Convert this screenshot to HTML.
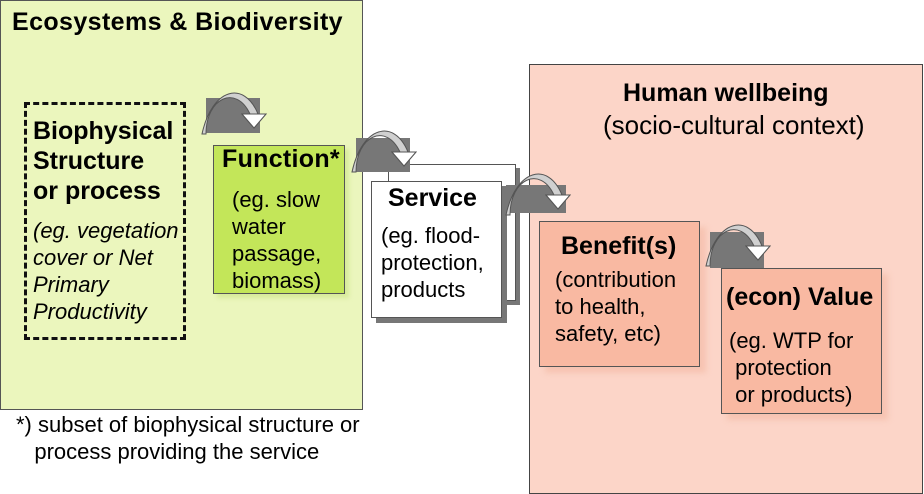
<!DOCTYPE html>
<html><head><meta charset="utf-8"><style>
body{margin:0;width:924px;height:489px;position:relative;background:#fff;font-family:"Liberation Sans",Arial,sans-serif;overflow:hidden}
.a{position:absolute;box-sizing:border-box}
.t{position:absolute;white-space:nowrap;color:#000}
.b{font-weight:bold}
</style></head><body>
<div class="a" style="left:0;top:0;width:363px;height:410px;background:#ebf6bd;border:1px solid #555"></div>
<div class="a" style="left:529px;top:64px;width:394px;height:430px;background:#fcd5c8;border:1px solid #444"></div>
<div class="t b" style="left:12px;top:8px;font-size:25px;letter-spacing:0.4px">Ecosystems &amp; Biodiversity</div>
<div class="a" style="left:24px;top:102px;width:162px;height:238px;border:3px dashed #111"></div>
<div class="t b" style="left:33px;top:116px;font-size:25px;line-height:30px">Biophysical<br>Structure<br>or process</div>
<div class="t" style="left:33px;top:217px;font-size:22px;line-height:27px;font-style:italic">(eg. vegetation<br>cover or Net<br>Primary<br>Productivity</div>
<div class="t" style="left:16px;top:411px;font-size:22px;line-height:27px">*) subset of biophysical structure or<br>&nbsp;&nbsp;&nbsp;process providing the service</div>

<!-- function -->
<div class="a" style="left:217px;top:149px;width:132px;height:149px;background:#d7eb9a;filter:blur(2px)"></div>
<div class="a" style="left:213px;top:145px;width:132px;height:149px;background:#c3e659;border:1px solid #555"></div>
<div class="t b" style="left:222px;top:145px;font-size:25px;letter-spacing:0.3px">Function*</div>
<div class="t" style="left:232px;top:186px;font-size:22px;line-height:27px">(eg. slow<br>water<br>passage,<br>biomass)</div>

<!-- service stack -->
<div class="a" style="left:392px;top:168px;width:128px;height:137px;background:#777"></div>
<div class="a" style="left:388px;top:164px;width:128px;height:137px;background:#fff;border:1px solid #555"></div>
<div class="a" style="left:376px;top:186px;width:131px;height:137px;background:#777"></div>
<div class="a" style="left:371px;top:181px;width:131px;height:137px;background:#fff;border:1px solid #555"></div>
<div class="t b" style="left:388px;top:184px;font-size:25px">Service</div>
<div class="t" style="left:381px;top:222px;font-size:22px;line-height:27px">(eg. flood-<br>protection,<br>products</div>

<!-- benefit -->
<div class="a" style="left:545px;top:227px;width:161px;height:146px;background:#f6c3b1;filter:blur(3px)"></div>
<div class="a" style="left:539px;top:221px;width:161px;height:146px;background:#f9b9a2;border:1px solid #555"></div>
<div class="t b" style="left:561px;top:232px;font-size:25px">Benefit(s)</div>
<div class="t" style="left:555px;top:266px;font-size:22px;line-height:27px">(contribution<br>to health,<br>safety, etc)</div>

<!-- value -->
<div class="a" style="left:727px;top:274px;width:161px;height:146px;background:#f6c3b1;filter:blur(3px)"></div>
<div class="a" style="left:721px;top:268px;width:161px;height:146px;background:#f9b9a2;border:1px solid #555"></div>
<div class="t b" style="left:726px;top:283px;font-size:25px">(econ) Value</div>
<div class="t" style="left:729px;top:327px;font-size:22px;line-height:27px">(eg. WTP for<br>&nbsp;protection<br>&nbsp;or products)</div>

<!-- human wellbeing -->
<div class="t b" style="left:623px;top:79px;font-size:25px">Human wellbeing</div>
<div class="t" style="left:603px;top:110px;font-size:26px">(socio-cultural context)</div>

<!-- arrows -->
<svg width="924" height="489" style="position:absolute;left:0;top:0">
<defs>
<g id="arr">
<path d="M0 40 C0 4 30 -10 44 20 L36 20 L48 34 L60 20 L52 20 C38 -14 6 -6 -4 40 Z" fill="#d0d0d0" stroke="#555" stroke-width="1"/>
<path d="M36 20 L48 34 L60 20 Z" fill="#fff" stroke="#555" stroke-width="1"/>
</g>
</defs>
<rect x="206" y="98" width="54" height="35" fill="#777"/>
<use href="#arr" x="206" y="94"/>
<rect x="356" y="138" width="54" height="34" fill="#777"/>
<use href="#arr" x="356" y="132"/>
<rect x="506" y="185" width="60" height="28" fill="#777"/>
<use href="#arr" x="510" y="175"/>
<rect x="710" y="232" width="54" height="36" fill="#777"/>
<use href="#arr" x="710" y="226"/>
</svg>
</body></html>
